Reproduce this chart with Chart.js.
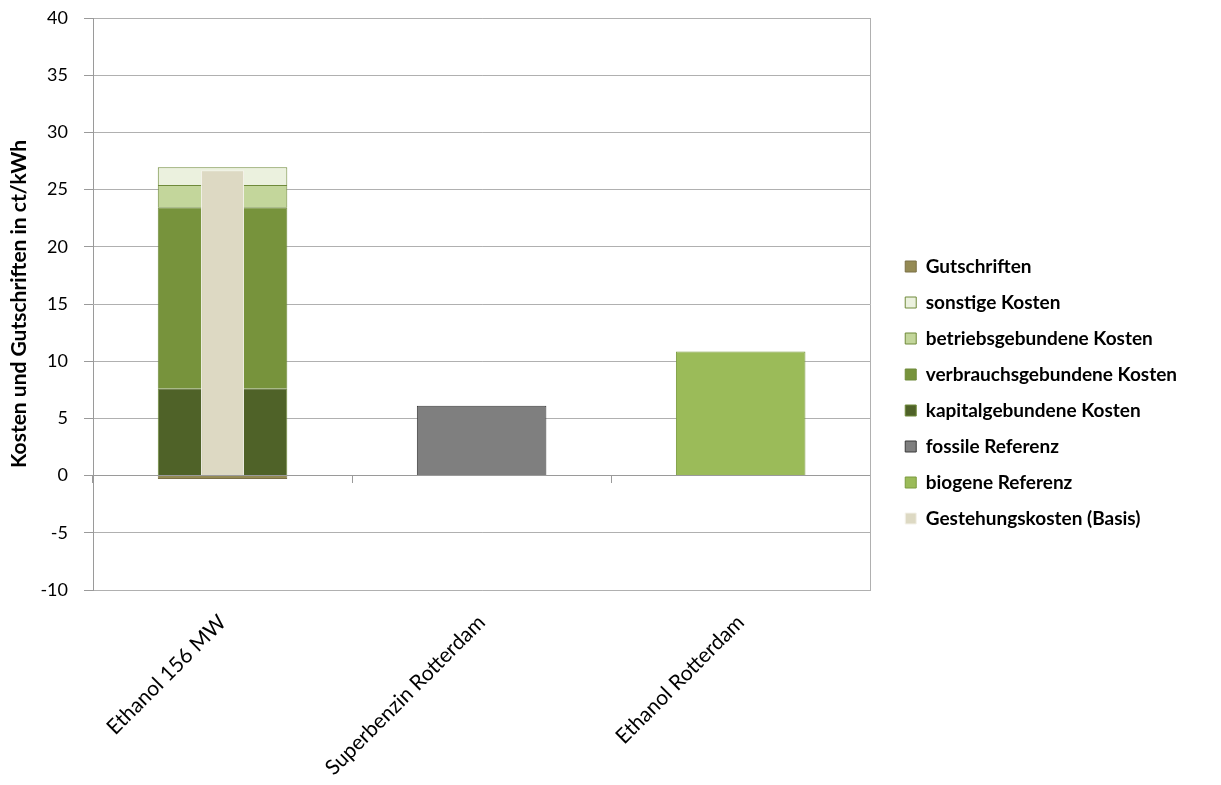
<!DOCTYPE html>
<html lang="de">
<head>
<meta charset="utf-8">
<title>Kosten und Gutschriften</title>
<script src="https://cdn.jsdelivr.net/npm/chart.js@4.4.1/dist/chart.umd.min.js"></script>
<style>
  html, body { margin: 0; padding: 0; background: #fff; }
  #wrap { width: 1221px; height: 785px; position: relative; }
</style>
</head>
<body>
<div id="wrap"><canvas id="kostenChart"></canvas></div>
<script>
// --- Data (ct/kWh)
const categories = ['Ethanol 156 MW', 'Superbenzin Rotterdam', 'Ethanol Rotterdam'];
const gestehungskosten   = [26.7, null, null];
const biogeneReferenz    = [null, null, 10.85];
const fossileReferenz    = [null, 6.1, null];
const kapitalgebunden    = [7.63, null, null];
const verbrauchsgebunden = [15.82, null, null];
const betriebsgebunden   = [1.95, null, null];
const sonstigeKosten     = [1.55, null, null];
const gutschriften       = [-0.3, null, null];
const yMin = -10, yMax = 40, yStep = 5;

const gridGray = '#b0b0b0';
const axisGray = '#9a9a9a';
const fontFamily = 'Lato, "Open Sans", sans-serif';

// stacked cost bars share these
function costSet(label, data, color, border) {
    return {
        label: label,
        data: data,
        stack: 'kosten',
        backgroundColor: color,
        borderColor: border,
        borderWidth: 1,
        categoryPercentage: 1,
        barPercentage: 0.5
    };
}

const ctx = document.getElementById('kostenChart').getContext('2d');
new Chart(ctx, {
    type: 'bar',
    data: {
        labels: categories,
        // dataset order: first one is drawn last (on top); legend is reversed
        datasets: [
            {
                label: 'Gestehungskosten (Basis)',
                data: gestehungskosten,
                stack: 'basis',
                grouped: false,
                backgroundColor: '#ddd9c3',
                borderColor: '#f4f2ea',
                borderWidth: 1,
                categoryPercentage: 1,
                barPercentage: 0.166
            },
            costSet('biogene Referenz', biogeneReferenz, '#9bbb59', '#7a9a3e'),
            costSet('fossile Referenz', fossileReferenz, '#7f7f7f', '#3a3a3a'),
            costSet('kapitalgebundene Kosten', kapitalgebunden, '#4f6228', '#6f8a3a'),
            costSet('verbrauchsgebundene Kosten', verbrauchsgebunden, '#77933c', '#6f8a3a'),
            costSet('betriebsgebundene Kosten', betriebsgebunden, '#c3d69b', '#6f8a3a'),
            costSet('sonstige Kosten', sonstigeKosten, '#ebf1de', '#6f8a3a'),
            costSet('Gutschriften', gutschriften, '#948a54', '#7a7046')
        ]
    },
    options: {
        responsive: true,
        maintainAspectRatio: false,
        animation: false,
        layout: {
            padding: { top: 0, right: 34, bottom: 0, left: 0 }
        },
        scales: {
            x: {
                stacked: true,
                offset: true,
                grid: { display: false },
                border: { display: false },
                ticks: {
                    color: '#000',
                    font: { family: fontFamily, size: 21 },
                    minRotation: 45,
                    maxRotation: 45,
                    padding: 12
                },
                afterFit: function (scale) { scale.height = 195; } // labels run off the bottom like the original
            },
            // category axis drawn at the zero line, only for its tick marks
            xZero: {
                type: 'category',
                position: { y: 0 },
                offset: true,
                grid: { offset: true, drawOnChartArea: false, drawTicks: true, tickLength: 7, color: axisGray },
                border: { color: axisGray },
                ticks: { display: false }
            },
            y: {
                stacked: true,
                min: yMin,
                max: yMax,
                ticks: {
                    stepSize: yStep,
                    color: '#000',
                    font: { family: fontFamily, size: 18 },
                    padding: 16
                },
                grid: { color: gridGray, tickLength: 9, tickColor: axisGray },
                border: { color: axisGray },
                title: {
                    display: true,
                    text: 'Kosten und Gutschriften in ct/kWh',
                    color: '#000',
                    font: { family: fontFamily, size: 21, weight: 'bold' },
                    padding: { top: 7, bottom: 4 }
                },
                afterFit: function (scale) {
                    scale.width = 93;
                    scale.paddingTop = 18;   // plot top sits at y = 18 like the original
                    scale.paddingBottom = 0;
                }
            },
            // right frame line of the plot area
            yRight: {
                type: 'linear',
                position: 'right',
                min: yMin,
                max: yMax,
                ticks: { display: false },
                grid: { drawOnChartArea: false, drawTicks: false },
                border: { color: gridGray },
                afterFit: function (scale) { scale.width = 18; }
            }
        },
        plugins: {
            legend: {
                position: 'right',
                reverse: true,
                maxWidth: 360,
                labels: {
                    color: '#000',
                    font: { family: fontFamily, size: 19, weight: 'bold' },
                    boxWidth: 11,
                    boxHeight: 11,
                    padding: 17
                }
            },
            tooltip: { enabled: false }
        }
    }
});
</script>
</body>
</html>
